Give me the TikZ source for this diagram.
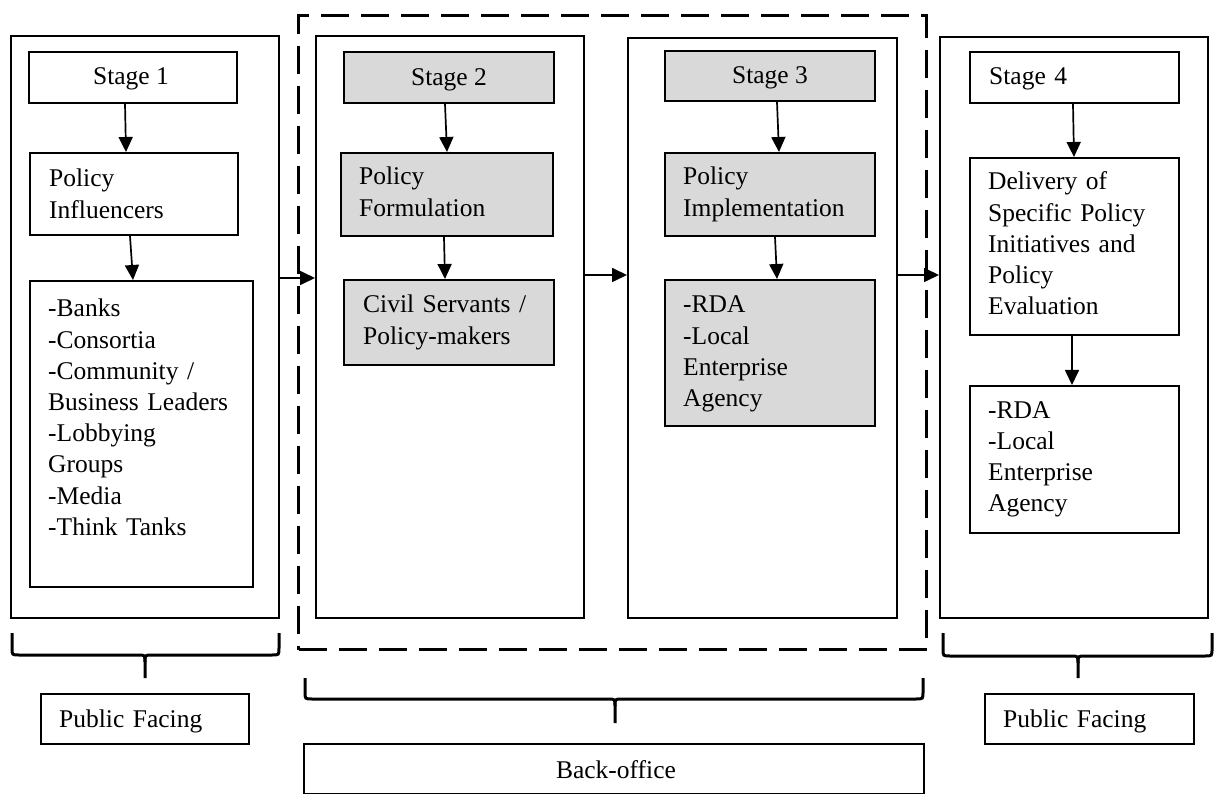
\documentclass[tikz,border=0pt]{standalone}
\usepackage{fontspec}
\setmainfont{Liberation Serif}
\usetikzlibrary{arrows.meta,calc}
\definecolor{shade}{HTML}{D9D9D9}
\newcommand\figfont{\fontsize{25.5pt}{31.2pt}\selectfont}
\begin{document}
\begin{tikzpicture}[x=1pt,y=-1pt,
  box/.style={draw, line width=2pt, inner sep=0pt, anchor=north west},
  grey/.style={fill=shade},
  arr/.style={line width=1.7pt, -{Triangle[length=15pt,width=14pt]}},
  txt/.style={inner sep=0pt, anchor=base west, align=left, text width=260pt, font=\figfont},
  ctxt/.style={inner sep=0pt, anchor=base, font=\figfont},
  brc/.style={line width=3pt},
  group/.style={draw, line width=3.3pt, dash pattern=on 28pt off 12pt, inner sep=0pt, anchor=north west}]
\useasboundingbox (0,0) rectangle (1219,794);

% back-office grouping
\node[group, minimum width=628pt, minimum height=634pt] (bk) at (297,14) {};

% stage columns
\node[box, fill=white, minimum width=268pt, minimum height=582pt] (f1) at (10,35) {};
\node[box, fill=white, minimum width=268pt, minimum height=582pt] (f2) at (315,35) {};
\node[box, fill=white, minimum width=269pt, minimum height=580pt] (f3) at (627,37) {};
\node[box, fill=white, minimum width=268pt, minimum height=581pt] (f4) at (939,36) {};

% stage 1
\node[box, minimum width=208pt, minimum height=51pt] (st1) at (28,51) {};
\node[box, minimum width=208pt, minimum height=82pt] (pi1) at (29,152) {};
\node[box, minimum width=223pt, minimum height=306pt] (l1) at (29,280) {};
\node[ctxt] (st1t) at ($(st1.north)+(-2,34)$) {Stage 1};
\node[txt] (pi1t) at ($(pi1.north west)+(20,35)$) {Policy\\Influencers};
\node[txt] (l1t) at ($(l1.north west)+(19,37)$) {-Banks\\-Consortia\\-Community /\\Business Leaders\\-Lobbying\\Groups\\-Media\\-Think Tanks};

% stage 2
\node[box, grey, minimum width=210pt, minimum height=51pt] (st2) at (343,51) {};
\node[box, grey, minimum width=212pt, minimum height=83pt] (pf2) at (340,152) {};
\node[box, grey, minimum width=210pt, minimum height=85pt] (cs2) at (343,279) {};
\node[ctxt] (st2t) at ($(st2.north)+(0,35)$) {Stage 2};
\node[txt] (pf2t) at ($(pf2.north west)+(19,33)$) {Policy\\Formulation};
\node[txt] (cs2t) at ($(cs2.north west)+(20,34)$) {Civil Servants /\\Policy-makers};

% stage 3
\node[box, grey, minimum width=210pt, minimum height=50pt] (st3) at (664,50) {};
\node[box, grey, minimum width=210pt, minimum height=83pt] (pi3) at (664,152) {};
\node[box, grey, minimum width=210pt, minimum height=146pt] (rd3) at (664,279) {};
\node[ctxt] (st3t) at ($(st3.north)+(0,34)$) {Stage 3};
\node[txt] (pi3t) at ($(pi3.north west)+(19,33)$) {Policy\\Implementation};
\node[txt] (rd3t) at ($(rd3.north west)+(19,34)$) {-RDA\\-Local\\Enterprise\\Agency};

% stage 4
\node[box, minimum width=209pt, minimum height=51pt] (st4) at (969,51) {};
\node[box, minimum width=209pt, minimum height=177pt] (dl4) at (969,157) {};
\node[box, minimum width=209pt, minimum height=147pt] (rd4) at (969,385) {};
\node[txt] (st4t) at ($(st4.north west)+(20,34)$) {Stage 4};
\node[txt] (dl4t) at ($(dl4.north west)+(19,33)$) {Delivery of\\Specific Policy\\Initiatives and\\Policy\\Evaluation};
\node[txt] (rd4t) at ($(rd4.north west)+(19,33)$) {-RDA\\-Local\\Enterprise\\Agency};

% arrows inside the columns
\draw[arr] ([xshift=-8pt]st1.south) -- ([xshift=-8pt]pi1.north);
\draw[arr] ([xshift=-4pt]pi1.south) -- ([xshift=-8.5pt]l1.north);
\draw[arr] ([xshift=-4pt]st2.south) -- ([xshift=0pt]pf2.north);
\draw[arr] ([xshift=-3pt]pf2.south) -- ([xshift=-4pt]cs2.north);
\draw[arr] ([xshift=7pt]st3.south) -- ([xshift=9pt]pi3.north);
\draw[arr] ([xshift=5pt]pi3.south) -- ([xshift=7pt]rd3.north);
\draw[arr] ([xshift=-1.5pt]st4.south) -- ([xshift=-0.5pt]dl4.north);
\draw[arr] ([xshift=-2.5pt]dl4.south) -- ([xshift=-2.5pt]rd4.north);

% arrows between the columns
\coordinate (r1) at (0,278);
\coordinate (r2) at (0,275);
\draw[arr] (f1.east |- r1) -- (f2.west |- r1);
\draw[arr] (f2.east |- r2) -- (f3.west |- r2);
\draw[arr] (f3.east |- r2) -- (f4.west |- r2);

% braces
\draw[brc] (12,633) -- (12,648) .. controls (12,655) .. (19,655) -- (138,655) .. controls (145,655) .. (145,662) -- (145,678);
\draw[brc] (279,633) -- (279,648) .. controls (279,655) .. (272,655) -- (152,655) .. controls (145,655) .. (145,662);
\draw[brc] (305,678) -- (305,692) .. controls (305,699) .. (312,699) -- (608,699) .. controls (615,699) .. (615,706) -- (615,723);
\draw[brc] (923,678) -- (923,692) .. controls (923,699) .. (916,699) -- (622,699) .. controls (615,699) .. (615,706);
\draw[brc] (943,633) -- (943,649) .. controls (943,656) .. (950,656) -- (1071,656) .. controls (1078,656) .. (1078,663) -- (1078,678);
\draw[brc] (1212,633) -- (1212,649) .. controls (1212,656) .. (1205,656) -- (1085,656) .. controls (1078,656) .. (1078,663);

% bottom labels
\node[box, minimum width=208pt, minimum height=50pt] (pfl) at (40,693) {};
\node[box, minimum width=209pt, minimum height=50pt] (pfr) at (984,693) {};
\node[box, minimum width=620pt, minimum height=50pt] (bo) at (303,743) {};
\node[txt] (pflt) at ($(pfl.north west)+(19,34)$) {Public Facing};
\node[txt] (pfrt) at ($(pfr.north west)+(19,34)$) {Public Facing};
\node[ctxt] (bot) at ($(bo.north)+(2,35)$) {Back-office};
\end{tikzpicture}
\end{document}
